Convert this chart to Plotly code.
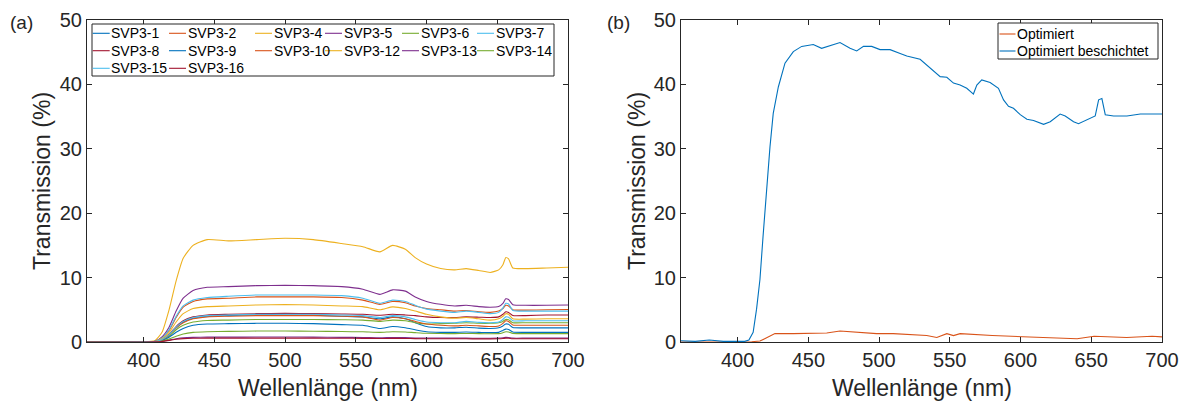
import plotly.graph_objects as go

# ---------------- data: panel (a) ----------------
wl_a = [360, 400, 408, 413, 418, 423, 428, 435, 445, 460, 480, 500, 520, 540, 555, 567, 576, 585,
        592, 600, 610, 620, 628, 637, 645, 651, 654, 656, 658, 661, 670, 685, 700]

svp3_1 = [0.0, 0.02, 0.06, 0.35, 1.1, 2.2, 3.1, 3.7, 4.0, 4.1, 4.2, 4.2, 4.15, 4.0, 3.9, 3.6, 3.9, 3.6,
          3.0, 2.4, 2.2, 2.2, 2.3, 2.15, 2.1, 2.2, 2.5, 2.8, 2.75, 2.25, 2.2, 2.2, 2.2]
svp3_2 = [0.0, 0.02, 0.1, 0.6, 1.8, 3.8, 5.4, 6.3, 6.7, 6.8, 7.0, 7.0, 7.0, 6.9, 6.5, 5.85, 6.3, 6.1,
          5.6, 5.2, 5.0, 4.8, 4.9, 4.7, 4.6, 4.8, 5.2, 5.7, 5.6, 5.0, 4.95, 5.0, 5.05]
svp3_4 = [0.02, 0.03, 0.2, 1.5, 5.0, 9.5, 13.0, 15.0, 15.9, 15.7, 15.9, 16.1, 15.9, 15.3, 14.8, 14.0, 15.0, 14.4,
          13.1, 12.1, 11.4, 11.2, 11.4, 11.1, 10.8, 11.2, 12.0, 13.1, 12.9, 11.5, 11.4, 11.5, 11.6]
svp3_5 = [0.02, 0.03, 0.1, 0.8, 2.3, 4.8, 6.8, 8.0, 8.5, 8.6, 8.75, 8.8, 8.75, 8.6, 8.2, 7.4, 8.1, 7.9,
          7.0, 6.3, 5.85, 5.6, 5.7, 5.5, 5.4, 5.5, 6.0, 6.7, 6.6, 5.8, 5.7, 5.7, 5.75]
svp3_6 = [0.0, 0.02, 0.05, 0.3, 0.9, 1.9, 2.6, 3.1, 3.35, 3.4, 3.5, 3.5, 3.5, 3.45, 3.4, 3.2, 3.4, 3.3,
          3.0, 2.8, 2.85, 2.9, 3.0, 2.9, 2.9, 3.0, 3.2, 3.5, 3.45, 3.0, 3.0, 3.0, 3.0]
svp3_7 = [0.0, 0.02, 0.1, 0.6, 1.9, 4.0, 5.6, 6.5, 6.9, 7.1, 7.3, 7.3, 7.3, 7.2, 6.8, 6.0, 6.5, 6.3,
          5.7, 5.1, 4.8, 4.6, 4.8, 4.6, 4.4, 4.6, 5.3, 6.0, 5.9, 4.9, 4.8, 4.8, 4.8]
svp3_8 = [0.0, 0.02, 0.07, 0.4, 1.2, 2.4, 3.3, 3.9, 4.2, 4.3, 4.4, 4.45, 4.4, 4.35, 4.3, 4.15, 4.3, 4.2,
          4.1, 3.9, 3.8, 3.8, 3.9, 3.85, 3.8, 3.9, 4.3, 4.7, 4.6, 4.1, 4.1, 4.2, 4.2]
svp3_9 = [0.0, 0.02, 0.04, 0.25, 0.75, 1.5, 2.1, 2.6, 2.8, 2.85, 2.9, 2.9, 2.85, 2.7, 2.6, 2.1, 2.4, 2.2,
          1.9, 1.6, 1.5, 1.5, 1.55, 1.5, 1.45, 1.5, 1.8, 2.0, 1.95, 1.55, 1.5, 1.5, 1.5]
svp3_10 = [0.0, 0.02, 0.06, 0.35, 1.1, 2.2, 3.0, 3.6, 3.9, 4.0, 4.1, 4.1, 4.1, 4.0, 3.9, 3.4, 3.8, 3.6,
           3.2, 2.8, 2.6, 2.5, 2.6, 2.5, 2.4, 2.5, 2.9, 3.3, 3.2, 2.65, 2.6, 2.6, 2.6]
svp3_12 = [0.02, 0.03, 0.08, 0.5, 1.5, 3.1, 4.4, 5.2, 5.5, 5.6, 5.75, 5.8, 5.75, 5.6, 5.5, 5.0, 5.45, 5.2,
           4.8, 4.3, 3.9, 3.7, 3.8, 3.6, 3.4, 3.6, 4.0, 4.4, 4.3, 3.6, 3.55, 3.6, 3.6]
svp3_13 = [0.0, 0.01, 0.02, 0.1, 0.3, 0.5, 0.65, 0.72, 0.75, 0.75, 0.78, 0.78, 0.75, 0.72, 0.7, 0.65, 0.7, 0.68,
           0.62, 0.6, 0.6, 0.6, 0.6, 0.58, 0.58, 0.6, 0.65, 0.72, 0.7, 0.6, 0.6, 0.6, 0.6]
svp3_14 = [0.05, 0.02, 0.03, 0.15, 0.45, 0.9, 1.25, 1.5, 1.6, 1.65, 1.7, 1.7, 1.68, 1.62, 1.58, 1.5, 1.6, 1.55,
           1.45, 1.35, 1.32, 1.3, 1.32, 1.3, 1.28, 1.3, 1.45, 1.6, 1.55, 1.32, 1.3, 1.3, 1.3]
svp3_15 = [0.0, 0.02, 0.07, 0.4, 1.15, 2.3, 3.2, 3.8, 4.1, 4.2, 4.3, 4.3, 4.3, 4.2, 4.1, 3.8, 4.1, 3.9,
           3.5, 3.1, 3.0, 3.0, 3.2, 3.05, 3.0, 3.1, 3.5, 3.9, 3.85, 3.3, 3.3, 3.3, 3.3]
svp3_16 = [0.0, 0.01, 0.02, 0.08, 0.25, 0.42, 0.52, 0.58, 0.6, 0.6, 0.6, 0.6, 0.6, 0.58, 0.57, 0.55, 0.56, 0.55,
           0.52, 0.5, 0.5, 0.5, 0.5, 0.48, 0.48, 0.5, 0.55, 0.6, 0.58, 0.5, 0.5, 0.5, 0.5]

names_a = ["SVP3-1", "SVP3-2", "SVP3-4", "SVP3-5", "SVP3-6", "SVP3-7", "SVP3-8",
           "SVP3-9", "SVP3-10", "SVP3-12", "SVP3-13", "SVP3-14", "SVP3-15", "SVP3-16"]
series_a = [svp3_1, svp3_2, svp3_4, svp3_5, svp3_6, svp3_7, svp3_8,
            svp3_9, svp3_10, svp3_12, svp3_13, svp3_14, svp3_15, svp3_16]

# ---------------- data: panel (b) ----------------
wl_b_coated = [360, 370, 380, 390, 400, 405, 408, 411, 413.4, 415.8, 418, 420.5, 422.9, 425.2, 428.8, 433.5,
               439.4, 445.3, 453.5, 459.4, 465.3, 472.4, 479.5, 484.2, 489, 494.8, 500.7, 507.8, 514.9,
               519.6, 529, 533.7, 538.4, 543.2, 547.9, 552.6, 557.3, 562, 566.7, 569.1, 572.6, 578.5,
               584.4, 588, 591.5, 595, 599.8, 604.5, 609.2, 616.3, 621, 628, 631.6, 637.5, 641, 647,
               652.8, 655.2, 657.5, 659.9, 665.8, 675.2, 684.7, 700]
opt_coated = [0.2, 0.1, 0.3, 0.1, 0.1, 0.1, 0.3, 1.5, 5.1, 9.7, 16.4, 24.2, 30.3, 35.5, 39.6, 43.3,
              45.1, 45.9, 46.2, 45.6, 46.0, 46.5, 45.6, 45.2, 45.9, 45.9, 45.4, 45.4, 44.8,
              44.4, 43.9, 43.0, 42.0, 41.2, 41.1, 40.2, 39.9, 39.4, 38.5, 39.9, 40.7, 40.3,
              39.4, 37.6, 36.6, 36.3, 35.3, 34.6, 34.4, 33.8, 34.2, 35.4, 35.1, 34.2, 33.9, 34.5,
              35.1, 37.6, 37.8, 35.3, 35.1, 35.1, 35.4, 35.4]
wl_b_opt = [360, 400, 410, 415.8, 420.5, 426.4, 439.4, 451, 463, 472.4, 486.6, 498.3, 510, 522, 533.7,
            540.8, 547.9, 552.6, 557.3, 580, 604, 616, 640, 652, 675, 693, 700]
opt = [0.0, 0.0, 0.05, 0.15, 0.7, 1.3, 1.3, 1.4, 1.4, 1.7, 1.5, 1.3, 1.3, 1.2, 1.0,
       0.7, 1.3, 1.0, 1.3, 1.0, 0.8, 0.7, 0.5, 0.9, 0.7, 0.9, 0.8]

x_ticks = [400, 450, 500, 550, 600, 650, 700]
y_ticks = [0, 10, 20, 30, 40, 50]

# ---------------- style ----------------
W, H = 1185, 403
COLORS = ["#0072BD", "#D95319", "#EDB120", "#7E2F8E", "#77AC30", "#4DBEEE", "#A2142F"]
AX = "#262626"
FONT = "Liberation Sans, Arial, sans-serif"

def px(x):
    return x / W

def py(y):
    return 1 - y / H

fig = go.Figure()
for i, (nm, ys) in enumerate(zip(names_a, series_a)):
    fig.add_trace(go.Scatter(x=wl_a, y=ys, mode="lines", name=nm, xaxis="x", yaxis="y",
                             line=dict(color=COLORS[i % 7], width=1.1, shape="spline", smoothing=0.5),
                             showlegend=False))

fig.add_trace(go.Scatter(x=wl_b_opt, y=opt, mode="lines", name="Optimiert", xaxis="x2", yaxis="y2",
                         line=dict(color=COLORS[1], width=1.1), showlegend=False))
fig.add_trace(go.Scatter(x=wl_b_coated, y=opt_coated, mode="lines", name="Optimiert beschichtet",
                         xaxis="x2", yaxis="y2", line=dict(color=COLORS[0], width=1.1), showlegend=False))

ax_common = dict(showline=True, linecolor=AX, linewidth=1, mirror="ticks", ticks="inside",
                 ticklen=5, tickcolor=AX, showgrid=False, zeroline=False,
                 tickfont=dict(family=FONT, size=20, color=AX), automargin=False)

y_dom = [py(342), py(20)]
fig.update_layout(
    width=W, height=H, margin=dict(l=0, r=0, t=0, b=0),
    paper_bgcolor="white", plot_bgcolor="white", showlegend=False,
    xaxis=dict(domain=[px(87), px(568)], range=[360, 700], tickvals=x_ticks, anchor="y", **ax_common),
    yaxis=dict(domain=y_dom, range=[0, 50], tickvals=y_ticks, anchor="x", **ax_common),
    xaxis2=dict(domain=[px(681), px(1162)], range=[360, 700], tickvals=x_ticks, anchor="y2", **ax_common),
    yaxis2=dict(domain=y_dom, range=[0, 50], tickvals=y_ticks, anchor="x2", **ax_common),
)

ann = []
shapes = []
# axis titles and panel labels
for cx in [(87 + 568) / 2, (681 + 1162) / 2]:
    ann.append(dict(text="Wellenlänge (nm)", x=px(cx), y=py(388), xref="paper", yref="paper",
                    showarrow=False, xanchor="center", yanchor="middle",
                    font=dict(family=FONT, size=23, color=AX)))
for cx in [42, 637]:
    ann.append(dict(text="Transmission (%)", x=px(cx), y=py(181), xref="paper", yref="paper",
                    showarrow=False, xanchor="center", yanchor="middle", textangle=-90,
                    font=dict(family=FONT, size=23, color=AX)))
for lbl, cx in [("(a)", 21), ("(b)", 618)]:
    ann.append(dict(text=lbl, x=px(cx), y=py(23), xref="paper", yref="paper", showarrow=False,
                    xanchor="center", yanchor="middle", font=dict(family=FONT, size=19, color=AX)))

# legend (a): 6 columns, row-major
col_x = [92.7, 169, 255, 325, 402, 477]
row_y = [33.3, 50.7, 68.3]
shapes.append(dict(type="rect", xref="paper", yref="paper", x0=px(92), x1=px(554), y0=py(76), y1=py(24),
                   line=dict(color=AX, width=1), fillcolor="white", layer="above"))
for i, nm in enumerate(names_a):
    r, c = divmod(i, 6)
    x0 = col_x[c]
    y0 = row_y[r]
    shapes.append(dict(type="line", xref="paper", yref="paper", x0=px(x0), x1=px(x0 + 17),
                       y0=py(y0), y1=py(y0), line=dict(color=COLORS[i % 7], width=1.1), layer="above"))
    ann.append(dict(text=nm, x=px(x0 + 16.5), y=py(y0), xref="paper", yref="paper", showarrow=False,
                    xanchor="left", yanchor="middle", font=dict(family=FONT, size=14, color="black")))

# legend (b)
names_b = ["Optimiert", "Optimiert beschichtet"]
colors_b = [COLORS[1], COLORS[0]]
shapes.append(dict(type="rect", xref="paper", yref="paper", x0=px(998), x1=px(1158), y0=py(59), y1=py(23),
                   line=dict(color=AX, width=1), fillcolor="white", layer="above"))
for i, nm in enumerate(names_b):
    y0 = [34, 51][i]
    shapes.append(dict(type="line", xref="paper", yref="paper", x0=px(999.5), x1=px(1015.5),
                       y0=py(y0), y1=py(y0), line=dict(color=colors_b[i], width=1.1), layer="above"))
    ann.append(dict(text=nm, x=px(1015), y=py(y0), xref="paper", yref="paper", showarrow=False,
                    xanchor="left", yanchor="middle", font=dict(family=FONT, size=14, color="black")))

fig.update_layout(annotations=ann, shapes=shapes)
fig.write_html("out.html")
